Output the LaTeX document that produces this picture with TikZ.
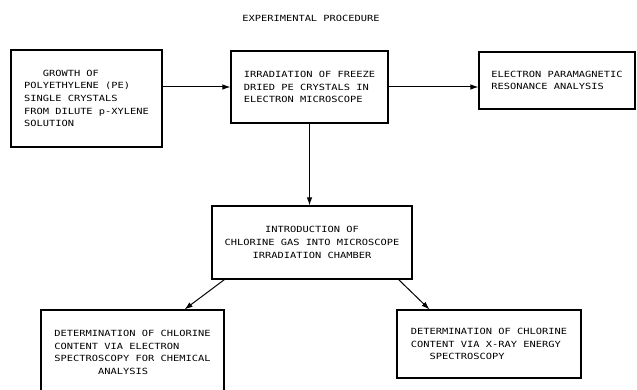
\documentclass[tikz,border=0pt]{standalone}
\usepackage{fontspec}
\usepackage{tikz}
\usetikzlibrary{arrows.meta, positioning, calc}
\newfontfamily\leroy[FakeStretch=1.22]{DejaVu Sans Mono}

\begin{document}
\begin{tikzpicture}[x=1pt, y=-1pt, >={Latex[length=8pt,width=5.5pt]},
    font=\leroy\fontsize{8.5}{12.6}\selectfont,
    stage/.style={rectangle, draw=black, line width=1.1pt, inner sep=0pt,
      align=left},
    link/.style={->, line width=1pt},
  ]
    \useasboundingbox (0,0) rectangle (637,390);

    \node (title) at (311,18) {EXPERIMENTAL PROCEDURE};

    \node[stage, minimum width=151pt, minimum height=97pt] (growth) at (86.5,98.5)
      {\phantom{XXX}GROWTH OF\\POLYETHYLENE (PE)\\SINGLE CRYSTALS\\FROM DILUTE p-XYLENE\\SOLUTION};
    \node[stage, minimum width=157pt, minimum height=72pt] (irrad) at (309.5,87)
      {IRRADIATION OF FREEZE\\DRIED PE CRYSTALS IN\\ELECTRON MICROSCOPE};
    \node[stage, minimum width=156pt, minimum height=57pt] (epr) at (557,80.5)
      {ELECTRON PARAMAGNETIC\\RESONANCE ANALYSIS};

    \node[stage, align=center, minimum width=200pt, minimum height=73pt] (chlor) at (312,242.5)
      {INTRODUCTION OF\\CHLORINE GAS INTO MICROSCOPE\\IRRADIATION CHAMBER};

    \node[stage, minimum width=183pt, minimum height=85pt] (esca) at (132.5,352.5)
      {DETERMINATION OF CHLORINE\\CONTENT VIA ELECTRON\\SPECTROSCOPY FOR CHEMICAL\\\phantom{XXXXXXX}ANALYSIS};
    \node[stage, minimum width=184pt, minimum height=68pt] (xray) at (489,344)
      {DETERMINATION OF CHLORINE\\CONTENT VIA X-RAY ENERGY\\\phantom{XXX}SPECTROSCOPY};

    \draw[link] (growth.east |- irrad.west) -- (irrad.west);
    \draw[link] (irrad.east) -- (epr.west |- irrad.east);
    \draw[link] (irrad.south) -- (irrad.south |- chlor.north);
    \draw[link] ([xshift=13pt]chlor.south west) -- ([xshift=-40pt]esca.north east);
    \draw[link] ([xshift=-14pt]chlor.south east) -- ([xshift=33pt]xray.north west);
  \end{tikzpicture}
\end{document}
